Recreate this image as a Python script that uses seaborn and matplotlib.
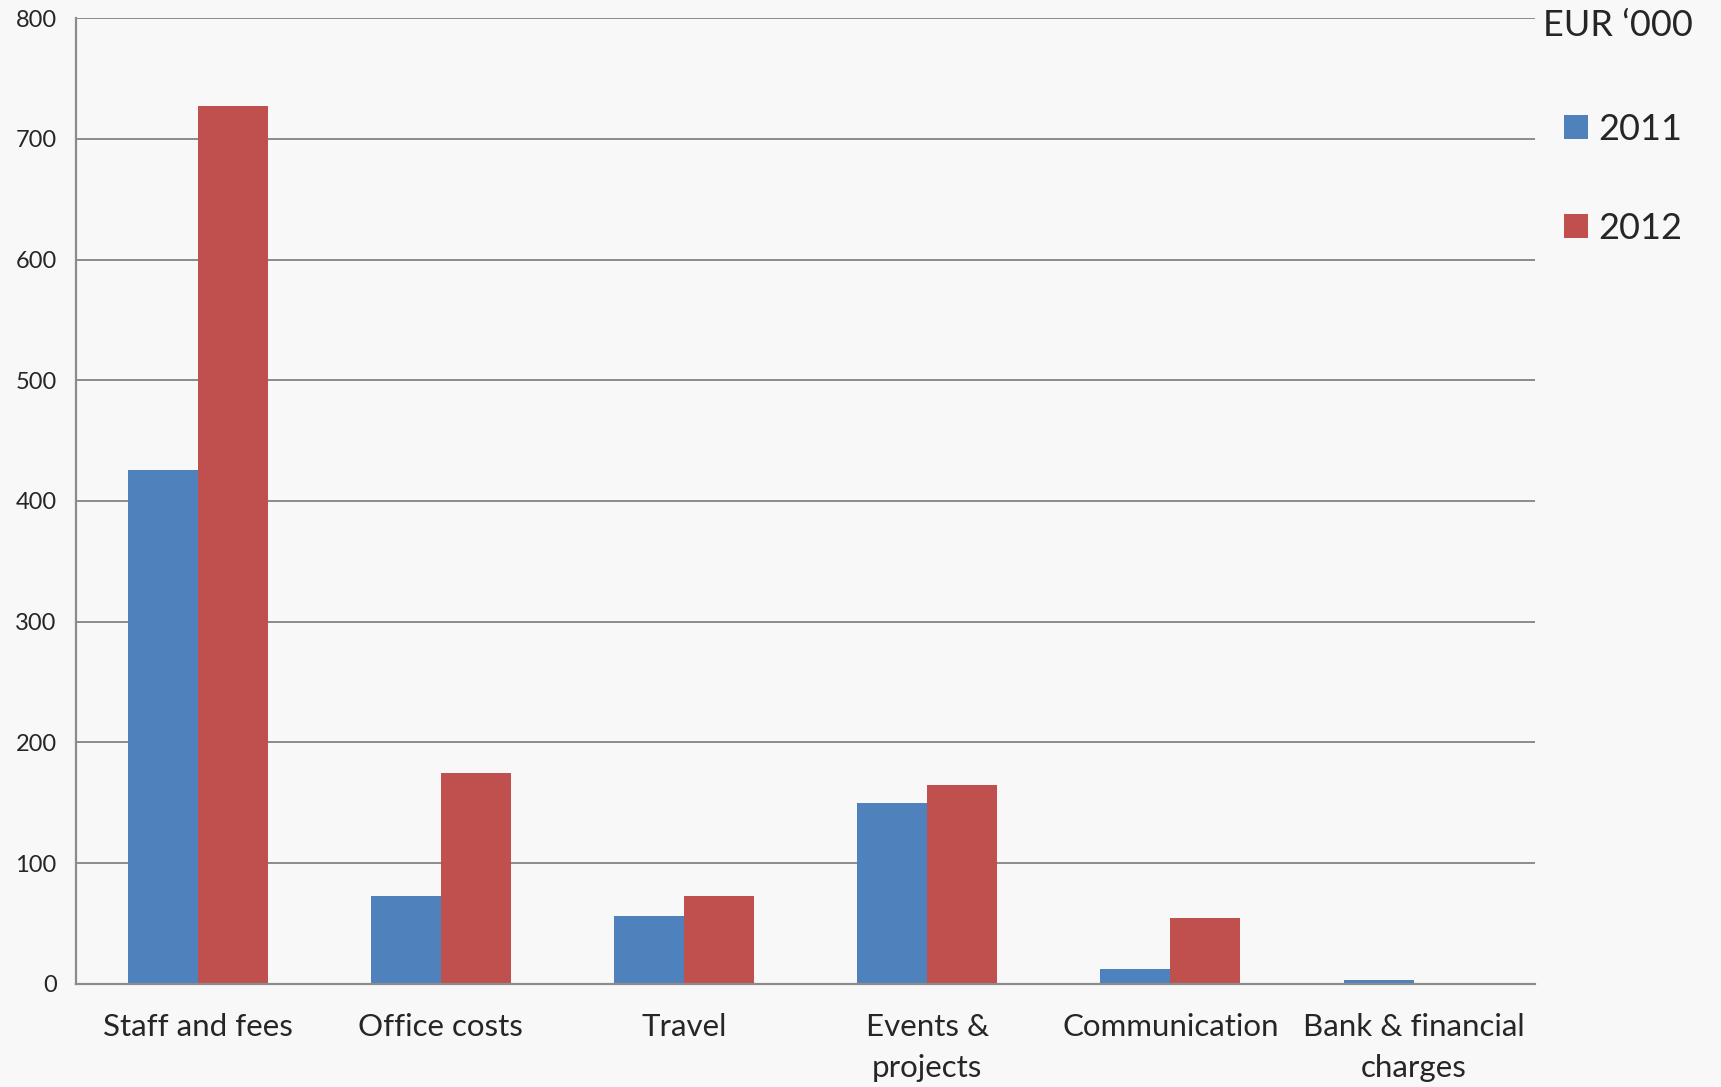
import matplotlib
matplotlib.use("Agg")
import matplotlib.pyplot as plt
import seaborn as sns
import pandas as pd

categories = ["Staff and fees", "Office costs", "Travel", "Events &\nprojects", "Communication", "Bank & financial\ncharges"]
values_2011 = [426, 73, 56, 150, 12, 3.5]
values_2012 = [727, 175, 73, 165, 55, 0.9]
years = ["2011", "2012"]
unit_label = "EUR \u2018000"

df = pd.DataFrame({
    "category": categories * 2,
    "value": values_2011 + values_2012,
    "year": [years[0]] * len(categories) + [years[1]] * len(categories),
})

sns.set_theme(style="white")
plt.rcParams["font.family"] = ["Lato", "DejaVu Sans"]

bg = "#f8f8f8"
grey = "#8c8c8c"
fig = plt.figure(figsize=(17.21, 10.87), dpi=100, facecolor=bg)
ax = fig.add_axes([0.0442, 0.0948, 0.8478, 0.8886], facecolor=bg)

sns.barplot(data=df, x="category", y="value", hue="year", order=categories,
            palette=["#4F81BD", "#C0504D"], width=0.576, ax=ax,
            edgecolor="none", linewidth=0, saturation=1, errorbar=None)

ax.set_ylim(0, 800)
ax.set_xlim(-0.5, len(categories) - 0.5)
ax.set_yticks(range(0, 801, 100))
ax.yaxis.grid(True, color=grey, linewidth=1.4)
ax.set_axisbelow(True)
ax.set_xlabel("")
ax.set_ylabel("")

for s in ["top", "right"]:
    ax.spines[s].set_visible(False)
for s in ["left", "bottom"]:
    ax.spines[s].set_color(grey)
    ax.spines[s].set_linewidth(1.6)

ax.set_xticks([i for i in range(len(categories))])
ax.set_xticklabels(categories, fontsize=22.5, linespacing=1.55)
ax.tick_params(axis="x", length=0, pad=21)
ax.set_xticks([i - 0.5 for i in range(len(categories) + 1)], minor=True)
ax.tick_params(axis="x", which="minor", length=10, width=1.6, color=grey, direction="out")
ax.tick_params(axis="y", length=8, width=1.4, color=grey, direction="out", labelsize=17, pad=6)
for lbl in ax.get_xticklabels():
    lbl.set_verticalalignment("top")

handles, labels = ax.get_legend_handles_labels()
ax.legend(handles, labels, loc="upper left", bbox_to_anchor=(0.89, 0.926),
          bbox_transform=fig.transFigure, frameon=False, fontsize=26,
          handlelength=0.65, handleheight=0.65, handletextpad=0.3, labelspacing=1.82)
fig.text(0.8965, 0.977, unit_label, fontsize=26, ha="left", va="center")

fig.savefig("out.png", dpi=100, facecolor=bg)
